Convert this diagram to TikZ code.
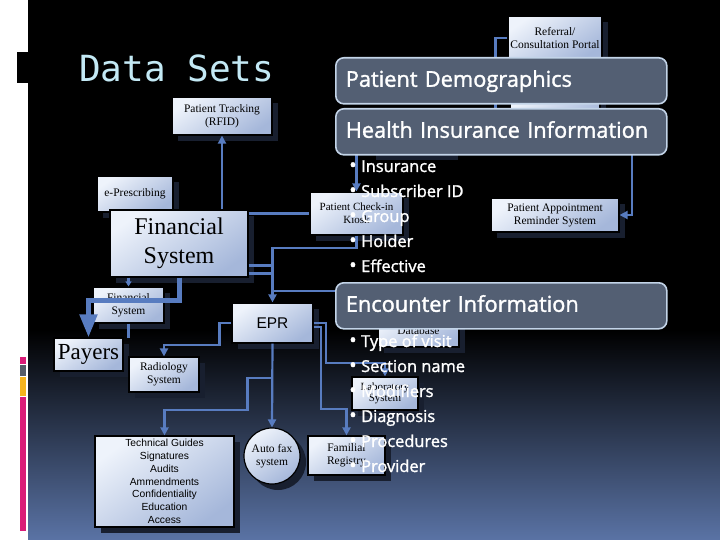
\documentclass[tikz,border=0pt]{standalone}
\usepackage{fontspec}
\setmainfont{Liberation Serif}
\newfontfamily\slidesans[FakeBold=1.5]{Open Sans}
\newfontfamily\slidemono{DejaVu Sans Mono}
\newfontfamily\boxsans{Liberation Sans}
\usetikzlibrary{arrows.meta, positioning, calc, shadows}

\definecolor{titlec}{RGB}{195,233,245}
\definecolor{bgblue}{RGB}{90,115,165}
\definecolor{ovfill}{RGB}{83,95,115}
\definecolor{ovedge}{RGB}{195,212,232}
\definecolor{linkc}{RGB}{88,124,192}
\definecolor{boxtop}{RGB}{238,243,251}
\definecolor{boxbot}{RGB}{165,183,218}
\definecolor{shadowc}{RGB}{24,31,47}
\definecolor{accpink}{RGB}{218,28,120}
\definecolor{accgray}{RGB}{85,92,104}
\definecolor{accyellow}{RGB}{245,180,30}

\tikzset{
  sysbox/.style={draw=black, line width=1.2pt, top color=boxtop, bottom color=boxbot,
    shading angle=35, inner sep=1pt, align=center,
    drop shadow={shadow xshift=6pt, shadow yshift=-6pt, fill=shadowc, opacity=1},
    font=\fontsize{11.5}{13}\selectfont},
  link/.style={draw=linkc, line width=2.2pt},
  linkarrow/.style={link, -{Triangle[length=8pt, width=8pt]}},
  thicklink/.style={draw=linkc, line width=5pt, -{Triangle[length=23pt, width=17pt]}},
  ovlbox/.style={draw=ovedge, fill=ovfill, line width=1.6pt, rounded corners=8pt,
    anchor=north west, text=white, inner xsep=10pt, inner ysep=0pt,
    text width=311pt, minimum height=46pt, text height=15pt, text depth=3pt,
    font=\slidesans\fontsize{21.8}{24}\selectfont},
  bulletitem/.style={anchor=base west, inner sep=0pt, text=white,
    font=\slidesans\fontsize{16.4}{19}\selectfont}
}

\begin{document}
\begin{tikzpicture}[x=1pt, y=-1pt]
  \useasboundingbox (0,0) rectangle (720,540);
  % slide background
  \fill[white] (0,0) rectangle (720,540);
  \fill[black] (28,0) rectangle (720,330);
  \shade[top color=black, bottom color=bgblue] (28,330) rectangle (720,540);

  % side marks
  \fill[black] (17,52) rectangle (28,83);
  \fill[accpink] (20,357) rectangle (26,364);
  \fill[accgray] (20,365) rectangle (26,376);
  \fill[accyellow] (20,377) rectangle (26,396);
  \fill[accpink] (20,397) rectangle (26,531);

  % title
  \node[anchor=base west, inner sep=0pt, text=titlec,
    font=\slidemono\fontsize{36}{36}\selectfont] (title) at (79,82) {Data Sets};

  % systems
  \node[sysbox, minimum width=94pt, minimum height=44pt] (ref) at (555,38) {Referral/\\Consultation Portal};
  \node[sysbox, minimum width=90pt, minimum height=30pt] (hidB) at (555,110) {};
  \node[sysbox, minimum width=82pt, minimum height=35pt] (hidA) at (411,137) {};
  \node[sysbox, minimum width=100pt, minimum height=38pt] (track) at (222,116) {Patient Tracking\\(RFID)};
  \node[sysbox, minimum width=76pt, minimum height=36pt] (erx) at (135,194) {e-Prescribing};
  \node[sysbox, minimum width=138pt, minimum height=67pt,
    font=\fontsize{24}{29}\selectfont] (fin) at (179,243.5) {Financial\\System};
  \node[sysbox, minimum width=71pt, minimum height=36pt] (finsub) at (128.5,305) {Financial\\System};
  \node[sysbox, minimum width=69pt, minimum height=33pt,
    font=\fontsize{23}{25}\selectfont] (payers) at (88.5,354.5) {Payers};
  \node[sysbox, minimum width=70pt, minimum height=35pt] (radio) at (164,374.5) {Radiology\\System};
  \node[sysbox, minimum width=81pt, minimum height=40pt,
    font=\boxsans\fontsize{15.5}{17}\selectfont] (epr) at (272.5,323) {EPR};
  \node[sysbox, minimum width=139pt, minimum height=91pt,
    font=\boxsans\fontsize{10.3}{12.8}\selectfont] (tech) at (164.5,481.5)
    {Technical Guides\\Signatures\\Audits\\Ammendments\\Confidentiality\\Education\\Access};
  \node[sysbox, circle, minimum size=56pt] (fax) at (272,456) {Auto fax\\system};
  \node[sysbox, minimum width=77pt, minimum height=39pt] (famreg) at (346.5,455.5) {Familial\\Registry};
  \node[sysbox, minimum width=66pt, minimum height=33pt,
    font=\fontsize{11}{11}\selectfont] (lab) at (385,393.5) {Laboratory\\System};
  \node[sysbox, minimum width=81pt, minimum height=32pt] (dbase) at (418.5,331) {Database};
  \node[sysbox, minimum width=93pt, minimum height=43pt,
    font=\fontsize{11}{13}\selectfont] (kiosk) at (356.5,213.5) {Patient Check-in\\Kiosk};
  \node[sysbox, minimum width=128pt, minimum height=34pt] (remind) at (555,215) {Patient Appointment\\Reminder System};

  % connectors
  \draw[linkarrow] (track.south |- fin.north) -- (track.south);
  \draw[link] (fin.east |- kiosk.west) -- (kiosk.west);
  \draw[link] ([yshift=-22pt]fin.east) -- ++(24,0);
  \draw[link] ([yshift=-30pt]fin.east) -- ++(24,0);
  \draw[linkarrow] (kiosk.south) -- ++(0,12) -| (epr.north);
  \coordinate (encfeed) at (360,291);
  \draw[link] (encfeed) -- (epr.north |- encfeed);
  \draw[linkarrow] (epr.west) -- ++(-12,0) -- ++(0,22) -| (radio.north);
  \draw[linkarrow] (epr.south) -- (fax.north);
  \coordinate (techfork) at ($(epr.south)+(0,34)$);
  \draw[linkarrow] (techfork) -- ++(-25,0) -- ++(0,32) -| (tech.north);
  \draw[linkarrow] (epr.east) -- ++(12,0) -- ++(0,40) -| (lab.north);
  \draw[linkarrow] ([yshift=-4pt]epr.east) -- ++(7,0) -- ++(0,82) -| (famreg.north);
  \draw[link, -{Triangle[length=5pt, width=6pt]}] (finsub.north |- fin.south) -- (finsub.north);
  \coordinate (finsubend) at ($(finsub.south)+(0,14)$);
  \draw[link] (finsub.south) -- (finsubend);
  \draw[thicklink] (fin.south) -- ++(0,23) -| (payers.north);
  \draw[linkarrow] (ref.west) -- ++(-12,0) -- ++(0,93) -| (kiosk.north);
  \coordinate (remfeed) at (632,130);
  \draw[linkarrow] (remfeed) |- (remind.east);

  % data set panels
  \node[ovlbox] (demo) at (335,57) {Patient Demographics};
  \node[ovlbox] (insur) at (335,108) {Health Insurance Information};
  \foreach \txt [count=\k from 0] in {Insurance, Subscriber ID, Group, Holder, Effective}
    \node[bulletitem] (ins\k) at (349,{172+25*\k}) {\makebox[12pt][l]{\fontsize{20}{19}\selectfont\textbullet}\txt};
  \node[ovlbox] (enc) at (335,282) {Encounter Information};
  \foreach \txt [count=\k from 0] in {Type of visit, Section name, Modifiers, Diagnosis, Procedures, Provider}
    \node[bulletitem] (enc\k) at (349,{347+25*\k}) {\makebox[12pt][l]{\fontsize{20}{19}\selectfont\textbullet}\txt};
\end{tikzpicture}
\end{document}
